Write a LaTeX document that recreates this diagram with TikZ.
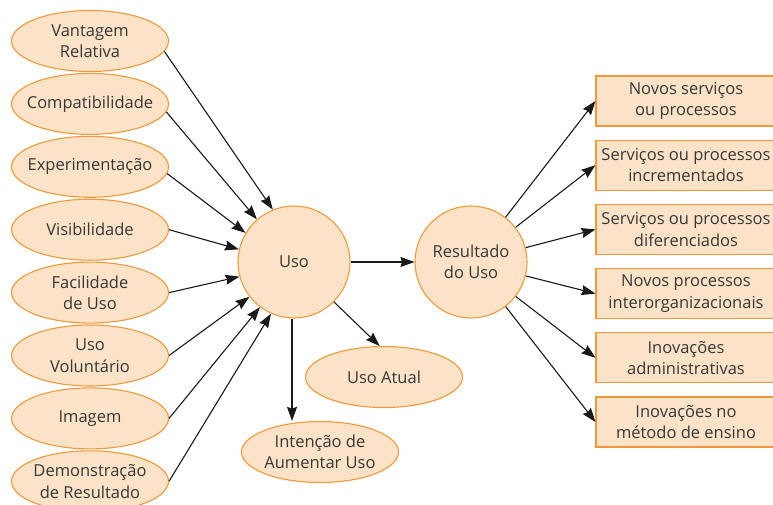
\documentclass[tikz,border=0pt]{standalone}
\usepackage{fontspec}
\setmainfont{Open Sans}
\usetikzlibrary{arrows.meta,shapes.geometric,positioning}

\definecolor{pele}{RGB}{252,227,200}
\definecolor{laranja}{RGB}{242,152,58}
\definecolor{texto}{RGB}{55,55,55}

\begin{document}
\begin{tikzpicture}[x=1pt,y=-1pt,node distance=62.9pt,on grid,
  >={Stealth[length=14pt,width=10pt,inset=1.5pt]},
  font=\fontsize{16.5}{21.5}\selectfont]
       \tikzstyle{fator}=[ellipse,draw=laranja,fill=pele,line width=1.1pt,
         text=texto,align=center,minimum width=157pt,minimum height=61pt,
         inner xsep=-30pt,inner ysep=-8pt]
       \tikzstyle{circulo}=[circle,draw=laranja,fill=pele,line width=1.1pt,
         text=texto,align=center,minimum size=112pt,inner sep=0pt]
       \tikzstyle{caixa}=[rectangle,draw=laranja,fill=pele,line width=1.1pt,
         text=texto,align=center,minimum width=180pt,minimum height=50pt,inner sep=0pt]
       \useasboundingbox (0,0) rectangle (773,504);
       \clip (0,0) rectangle (773,504);

       % fatores a esquerda
       \node[fator] (f_1) at (90,41)  {Vantagem\\Relativa};
       \node[fator] (f_2) [below of=f_1] {Compatibilidade};
       \node[fator] (f_3) [below of=f_2] {Experimentação};
       \node[fator] (f_4) [below of=f_3] {Visibilidade};
       \node[fator] (f_5) [below of=f_4] {Facilidade\\de Uso};
       \node[fator] (f_6) [below of=f_5] {Uso\\Voluntário};
       \node[fator] (f_7) [below of=f_6] {Imagem};
       \node[fator] (f_8) [below of=f_7] {Demonstração\\de Resultado};

       % centro
       \node[circulo] (uso) at (294,262) {Uso};
       \node[circulo] (res) at (471,262) {Resultado\\do Uso};
       \node[fator]   (atual) at (384,377) {Uso Atual};
       \node[fator]   (inten) at (320,452) {Intenção de\\Aumentar Uso};

       % resultados a direita
       \node[caixa] (r_1) at (686,101) {Novos serviços\\ou processos};
       \node[caixa] (r_2) [below of=r_1,node distance=64.2pt] {Serviços ou processos\\incrementados};
       \node[caixa] (r_3) [below of=r_2,node distance=64.2pt] {Serviços ou processos\\diferenciados};
       \node[caixa] (r_4) [below of=r_3,node distance=64.2pt] {Novos processos\\interorganizacionais};
       \node[caixa] (r_5) [below of=r_4,node distance=64.2pt] {Inovações\\administrativas};
       \node[caixa] (r_6) [below of=r_5,node distance=64.2pt] {Inovações no\\método de ensino};

       \path[->,line width=1.1pt,black!90]
       (f_1.-8) edge (uso.112)
       (f_2.-6) edge (uso.131)
       (f_3.-5) edge (uso.149)
       (f_4.east) edge (uso.167)
       (f_5.east) edge (uso.195)
       (f_6.east) edge (uso.218)
       (f_7.east) edge (uso.233)
       (f_8.east) edge (uso.246)
       (uso) edge (res)
       (uso.-45) edge (atual.98)
       (uso.-92) edge (uso.-92 |- inten.north)
       (res) edge (r_1.west)
             edge (r_2.west)
             edge (r_3.west)
             edge (r_4.west)
             edge (r_5.west)
             edge (r_6.west);
     \end{tikzpicture}
\end{document}
